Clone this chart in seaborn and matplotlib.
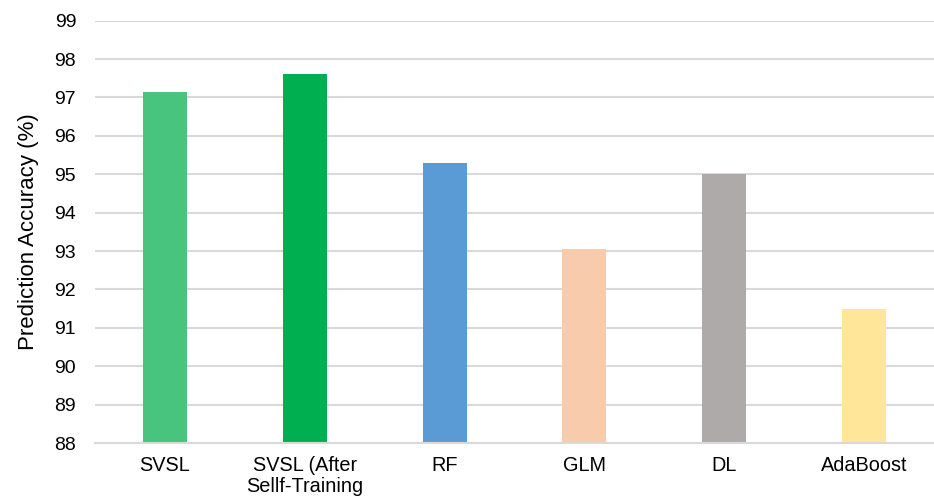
import matplotlib
matplotlib.use("Agg")
import matplotlib.pyplot as plt
import seaborn as sns
import pandas as pd

categories = ["SVSL", "SVSL (After\nSellf-Training", "RF", "GLM", "DL", "AdaBoost"]
accuracy = [97.15, 97.6, 95.3, 93.05, 95.0, 91.5]
colors = ["#48C47E", "#00B050", "#5B9BD5", "#F8CBAD", "#AEAAAA", "#FFE699"]
y_ticks = list(range(88, 100))

sns.set_theme(style="white")
plt.rcParams["font.family"] = ["Liberation Sans", "DejaVu Sans"]

df = pd.DataFrame({"model": categories, "acc": accuracy})

fig = plt.figure(figsize=(9.34, 5.03), dpi=100)
ax = fig.add_axes([0.1017, 0.119, 0.8983, 0.84])

sns.barplot(data=df, x="model", y="acc", hue="model", palette=colors,
            width=0.315, legend=False, ax=ax, saturation=1, edgecolor="none")

ax.set_ylim(88, 99)
ax.set_yticks(y_ticks)
ax.set_xlim(-0.5, len(categories) - 0.5)
ax.yaxis.grid(True, color="#D9D9D9", linewidth=1.5)
ax.set_axisbelow(True)
for side in ["top", "right", "left"]:
    ax.spines[side].set_visible(False)
ax.spines["bottom"].set_color("#D9D9D9")
ax.spines["bottom"].set_linewidth(1.5)

ax.tick_params(axis="y", labelsize=14, length=0, pad=13.5, colors="#000000")
ax.tick_params(axis="x", labelsize=14.3, length=0, pad=9.5, colors="#000000")
for lbl in ax.get_xticklabels():
    lbl.set_linespacing(1.1)
    lbl.set_verticalalignment("top")
ax.set_xlabel("")
ax.set_ylabel("Prediction Accuracy (%)", fontsize=16, labelpad=11, color="#000000")

fig.savefig("out.png", dpi=100)
